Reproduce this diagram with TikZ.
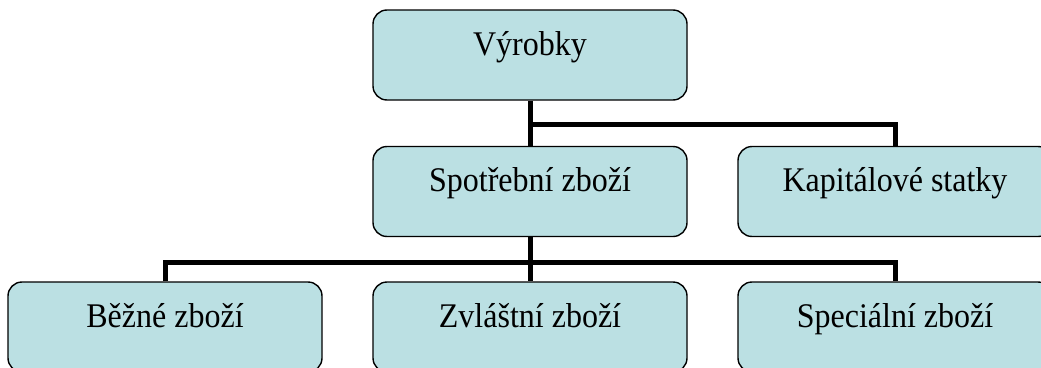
\documentclass[tikz,border=0pt]{standalone}
\usepackage{fontspec}
\setmainfont{Liberation Serif}
\definecolor{boxfill}{RGB}{187,224,227}
\newcommand{\tallt}[1]{\scalebox{1}[1.08]{#1}}
\begin{document}
\begin{tikzpicture}[x=1pt,y=-1pt,
  orgbox/.style={draw=black, line width=1.4pt, fill=boxfill, rounded corners=14pt,
    minimum width=314pt, minimum height=90pt, inner sep=0pt,
    text height=12pt, text depth=12pt,
    font=\fontsize{32}{40}\selectfont},
  conn/.style={draw=black, line width=5pt, line join=miter, line cap=butt}]
\useasboundingbox (0,0) rectangle (1041,367);
\clip (0,0) rectangle (1041,367);
\coordinate (j1) at (530,124);
\coordinate (j2) at (530,262);
\node[orgbox] (top) at (530,55) {\tallt{Výrobky}};
\node[orgbox] (sp) at (530,191.5) {\tallt{Spotřební zboží}};
\node[orgbox] (kap) at (895,191.5) {\tallt{Kapitálové statky}};
\node[orgbox] (be) at (165,327) {\tallt{Běžné zboží}};
\node[orgbox] (zv) at (530,327) {\tallt{Zvláštní zboží}};
\node[orgbox] (spec) at (895,327) {\tallt{Speciální zboží}};
\draw[conn] (top.south) -- (sp.north);
\draw[conn] (j1) -| (kap.north);
\draw[conn] (sp.south) -- (zv.north);
\draw[conn] (be.north) |- (spec.north |- j2) -- (spec.north);
\end{tikzpicture}
\end{document}
